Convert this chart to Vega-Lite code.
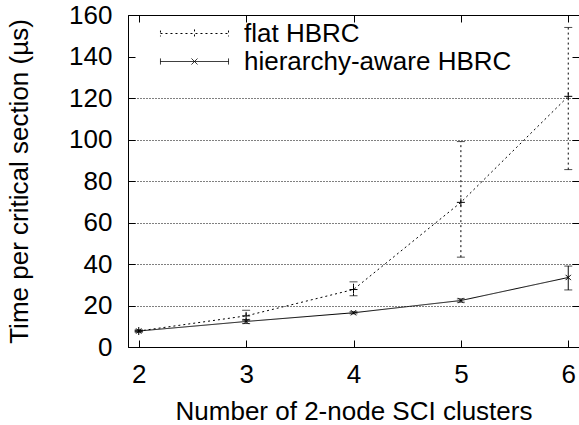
{
  "$schema": "https://vega.github.io/schema/vega-lite/v6.json",
  "width": 451,
  "height": 332,
  "autosize": {"type": "none"},
  "padding": {"left": 128, "top": 15, "right": 0, "bottom": 78},
  "background": "white",
  "config": {
    "view": {"stroke": "black", "strokeWidth": 1},
    "font": "Liberation Sans",
    "axis": {"labelFont": "Liberation Sans", "titleFont": "Liberation Sans", "labelFontSize": 26, "titleFontSize": 26, "titleFontWeight": "normal", "labelColor": "black", "titleColor": "black", "domain": false, "tickColor": "black", "tickSize": -7, "labelFlush": false}
  },
  "data": {"values": [
    {"x": 2, "series": "flat HBRC", "y": 7.7, "lo": 7.2, "hi": 8.2},
    {"x": 3, "series": "flat HBRC", "y": 15, "lo": 12.9, "hi": 17.7},
    {"x": 4, "series": "flat HBRC", "y": 27.7, "lo": 24.7, "hi": 31.4},
    {"x": 5, "series": "flat HBRC", "y": 69.7, "lo": 43.3, "hi": 99},
    {"x": 6, "series": "flat HBRC", "y": 120.8, "lo": 85.5, "hi": 154},
    {"x": 2, "series": "hierarchy-aware HBRC", "y": 7.7, "lo": 7.3, "hi": 8.1},
    {"x": 3, "series": "hierarchy-aware HBRC", "y": 12.3, "lo": 11.3, "hi": 13.2},
    {"x": 4, "series": "hierarchy-aware HBRC", "y": 16.5, "lo": 16, "hi": 17},
    {"x": 5, "series": "hierarchy-aware HBRC", "y": 22.4, "lo": 21.6, "hi": 23.2},
    {"x": 6, "series": "hierarchy-aware HBRC", "y": 33.5, "lo": 27.5, "hi": 39}
  ]},
  "encoding": {
    "x": {"field": "x", "type": "quantitative", "scale": {"domain": [1.9, 6.1], "nice": false, "zero": false}, "axis": null},
    "y": {"type": "quantitative", "scale": {"domain": [0, 160], "nice": false}, "axis": null}
  },
  "layer": [
    {
      "mark": {"type": "line", "color": "black", "strokeWidth": 1},
      "encoding": {
        "x": {"field": "x", "type": "quantitative", "axis": {"values": [2, 3, 4, 5, 6], "title": "Number of 2-node SCI clusters", "grid": false, "labelPadding": 21, "titlePadding": 11}},
        "y": {"field": "y", "type": "quantitative", "axis": {"values": [0, 20, 40, 60, 80, 100, 120, 140, 160], "title": "Time per critical section (µs)", "grid": true, "gridColor": "black", "gridDash": [1, 2], "gridWidth": 1, "gridOpacity": {"condition": {"test": "datum.value === 140", "value": 0}, "value": 1}, "labelPadding": 23, "titlePadding": 36}},
        "strokeDash": {"field": "series", "type": "nominal", "scale": {"domain": ["flat HBRC", "hierarchy-aware HBRC"], "range": [[2, 3], [1, 0]]}, "legend": {"title": null, "orient": "none", "legendX": 52, "legendY": 4, "symbolSize": 784, "symbolStrokeWidth": 1, "symbolStrokeColor": "black", "symbolFillColor": "transparent", "symbolOpacity": 1, "labelFontSize": 26, "labelFont": "Liberation Sans", "labelColor": "black", "labelLimit": 0, "rowPadding": 0, "labelOffset": 35, "padding": 0}}
      }
    },
    {
      "mark": {"type": "point", "opacity": 0, "filled": false, "color": "black"},
      "encoding": {
        "y": {"field": "y", "type": "quantitative"},
        "shape": {"field": "series", "type": "nominal", "scale": {"domain": ["flat HBRC", "hierarchy-aware HBRC"], "range": ["M-2.43,0H2.43M-2.43,-0.21V0.21M2.43,-0.21V0.21M0,-0.29V0.29", "M-2.43,0H2.43M-2.43,-0.21V0.21M2.43,-0.21V0.21M-0.21,-0.21L0.21,0.21M-0.21,0.21L0.21,-0.21"]}},
        "strokeDash": {"field": "series", "type": "nominal"}
      }
    },
    {
      "mark": {"type": "rule", "color": "black", "strokeWidth": 1},
      "encoding": {
        "y": {"field": "lo", "type": "quantitative"},
        "y2": {"field": "hi"},
        "strokeDash": {"field": "series", "type": "nominal"}
      }
    },
    {
      "mark": {"type": "tick", "orient": "horizontal", "color": "black", "size": 8, "thickness": 1},
      "encoding": {"y": {"field": "lo", "type": "quantitative"}}
    },
    {
      "mark": {"type": "tick", "orient": "horizontal", "color": "black", "size": 8, "thickness": 1},
      "encoding": {"y": {"field": "hi", "type": "quantitative"}}
    },
    {
      "transform": [{"filter": "datum.series === 'hierarchy-aware HBRC'"}],
      "mark": {"type": "point", "color": "black", "filled": false, "strokeWidth": 1, "size": 50, "shape": "M-0.75,-0.75L0.75,0.75M-0.75,0.75L0.75,-0.75", "opacity": 1},
      "encoding": {"y": {"field": "y", "type": "quantitative"}}
    },
    {
      "transform": [{"filter": "datum.series === 'flat HBRC'"}],
      "mark": {"type": "point", "color": "black", "filled": false, "strokeWidth": 1, "size": 64, "shape": "M-1,0H1M0,-1V1", "opacity": 1},
      "encoding": {
        "y": {"field": "y", "type": "quantitative", "axis": {"orient": "right", "values": [0, 20, 40, 60, 80, 100, 120, 140, 160], "labels": false, "title": null, "grid": false}},
        "x": {"field": "x", "type": "quantitative", "axis": {"orient": "top", "values": [2, 3, 4, 5, 6], "labels": false, "title": null, "grid": false}}
      }
    }
  ],
  "resolve": {"axis": {"x": "independent", "y": "independent"}}
}
